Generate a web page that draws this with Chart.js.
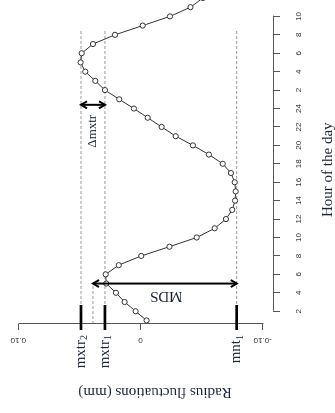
<!DOCTYPE html>
<html><head><meta charset="utf-8">
<script src="https://cdn.jsdelivr.net/npm/chart.js@4"></script>
<style>
html,body{margin:0;padding:0;background:#fff;overflow:hidden;width:335px;height:413px;}
#wrap{position:absolute;left:0;top:0;width:430px;height:335px;transform-origin:0 0;transform:translate(0px,413px) rotate(-90deg);}
canvas{display:block;}
</style></head><body>
<div id="wrap"><canvas id="c" width="430" height="335"></canvas></div>
<script>
// ---- data ----
const hours = [1,2,3,4,5,6,7,8,9,10,11,12,13,14,15,16,17,18,19,20,21,22,23,24,25,26,27,28,29,30,31,32,33,34,35,36];
const radius = [-0.0050,0.0040,0.0130,0.0201,0.0280,0.0285,0.0178,-0.0006,-0.0237,-0.0460,-0.0607,-0.0699,-0.0751,-0.0774,-0.0779,-0.0771,-0.0740,-0.0673,-0.0560,-0.0429,-0.0288,-0.0173,-0.0059,0.0054,0.0174,0.0291,0.0370,0.0452,0.0490,0.0481,0.0389,0.0209,-0.0018,-0.0241,-0.0409,-0.0511];
const hourTicks = [2,4,6,8,10,12,14,16,18,20,22,24,26,28,30,32,34];
const hourTickLabels = ['2','4','6','8','10','12','14','16','18','20','22','24','2','4','6','8','10'];
const radiusTicks = [0.10, 0, -0.10];
const radiusTickLabels = ['0.10','0','-0.10'];
const levelNames = ['mxtr','mxtr','mnt'];
const levelSubs = ['2','1','1'];
const levelValues = [0.0487, 0.0291, -0.0787];
const mdsMax = 0.0389;
const mdsHour = 5;
const dmxtrHour = 24.4;
const levelEndHour = 32.6;
const hourTitle = 'Hour of the day';
const radiusTitle = 'Radius fluctuations (mm)';
const mdsLabel = 'MDS';
const dmxtrLabel = '\u0394mxtr';

const X_MIN = 0.61, X_MAX = 37.08;
const Y_MIN = -0.10843, Y_MAX = 0.10679;

const SERIF = "'Liberation Serif', 'Times New Roman', serif";
const SANS = "'Liberation Sans', Arial, sans-serif";
const TXT = '#1c2436';
const AX = '#555';

function seg(x0, x1, v){ return [{x:x0,y:v},{x:x1,y:v}]; }
const dashStyle = {borderColor:'#9a9a9a', borderWidth:1, borderDash:[3,2], pointRadius:0, fill:false, tension:0};

const datasets = [{
  data: hours.map((h,i)=>({x:h, y:radius[i]})),
  borderColor:'#333', borderWidth:1, tension:0, fill:false,
  pointRadius:2.6, pointBackgroundColor:'#fff', pointBorderColor:'#333', pointBorderWidth:1
}];
levelValues.forEach(v => datasets.push(Object.assign({data: seg(X_MIN, levelEndHour, v)}, dashStyle)));
datasets.push(Object.assign({data: seg(X_MIN, mdsHour, mdsMax)}, dashStyle));

function arrow(ctx, x1, y1, x2, y2){
  const L = 6, W = 3.5;
  ctx.beginPath(); ctx.moveTo(x1,y1); ctx.lineTo(x2,y2); ctx.stroke();
  const heads = [[x1,y1,x2,y2],[x2,y2,x1,y1]];
  heads.forEach(([tx,ty,fx,fy])=>{
    const a = Math.atan2(ty-fy, tx-fx);
    ctx.beginPath();
    ctx.moveTo(tx - L*Math.cos(a) + W*Math.sin(a), ty - L*Math.sin(a) - W*Math.cos(a));
    ctx.lineTo(tx, ty);
    ctx.lineTo(tx - L*Math.cos(a) - W*Math.sin(a), ty - L*Math.sin(a) + W*Math.cos(a));
    ctx.stroke();
  });
}

const annot = {
  id:'annot',
  afterDatasetsDraw(chart){
    const ctx = chart.ctx, ca = chart.chartArea, xs = chart.scales.x, ys = chart.scales.y;
    ctx.save();
    // axis lines (span first to last tick)
    ctx.strokeStyle = AX; ctx.lineWidth = 1; ctx.setLineDash([]);
    ctx.beginPath();
    ctx.moveTo(Math.round(xs.getPixelForValue(hourTicks[0]))+0.5, Math.round(ca.bottom)+0.5);
    ctx.lineTo(Math.round(xs.getPixelForValue(hourTicks[hourTicks.length-1]))+0.5, Math.round(ca.bottom)+0.5);
    ctx.moveTo(Math.round(ca.left)+0.5, Math.round(ys.getPixelForValue(radiusTicks[0]))+0.5);
    ctx.lineTo(Math.round(ca.left)+0.5, Math.round(ys.getPixelForValue(radiusTicks[radiusTicks.length-1]))+0.5);
    ctx.stroke();

    // radius tick labels (rotated)
    ctx.fillStyle = '#333'; ctx.font = '8px ' + SANS;
    ctx.textAlign = 'center'; ctx.textBaseline = 'middle';
    radiusTicks.forEach((v,i)=>{
      ctx.save();
      ctx.translate(ca.left - 16, ys.getPixelForValue(v));
      ctx.rotate(-Math.PI/2);
      ctx.fillText(radiusTickLabels[i], 0, 0);
      ctx.restore();
    });

    // thick level marks + labels
    ctx.strokeStyle = '#000'; ctx.lineWidth = 2.7;
    levelValues.forEach((v,i)=>{
      const yy = ys.getPixelForValue(v);
      ctx.beginPath(); ctx.moveTo(ca.left-6, yy); ctx.lineTo(ca.left+19, yy); ctx.stroke();
      ctx.fillStyle = TXT;
      ctx.font = '10px ' + SERIF;
      const sw = ctx.measureText(levelSubs[i]).width;
      ctx.textAlign = 'left'; ctx.textBaseline = 'alphabetic';
      ctx.fillText(levelSubs[i], ca.left - 11 - sw, yy + 6.3);
      ctx.font = '15px ' + SERIF;
      ctx.textAlign = 'right';
      ctx.fillText(levelNames[i], ca.left - 11 - sw, yy + 3.8);
    });

    // arrows
    ctx.strokeStyle = '#000'; ctx.lineWidth = 2;
    const mx = xs.getPixelForValue(mdsHour);
    const mTop = ys.getPixelForValue(mdsMax), mBot = ys.getPixelForValue(levelValues[2]);
    arrow(ctx, mx, mTop, mx, mBot);
    const dx = xs.getPixelForValue(dmxtrHour);
    const dTop = ys.getPixelForValue(levelValues[0]), dBot = ys.getPixelForValue(levelValues[1]);
    arrow(ctx, dx, dTop, dx, dBot);

    // MDS label (rotated)
    ctx.fillStyle = TXT; ctx.font = '15px ' + SERIF;
    ctx.textAlign = 'center'; ctx.textBaseline = 'middle';
    ctx.save();
    ctx.translate(mx - 12.7, (mTop + mBot)/2 + 1.5);
    ctx.rotate(-Math.PI/2);
    ctx.fillText(mdsLabel, 0, 0);
    ctx.restore();

    // delta mxtr label
    ctx.font = '13px ' + SERIF;
    ctx.textAlign = 'right'; ctx.textBaseline = 'middle';
    ctx.fillText(dmxtrLabel, dx - 10, (dTop + dBot)/2);

    // axis titles
    ctx.font = '15px ' + SERIF;
    ctx.textAlign = 'center'; ctx.textBaseline = 'alphabetic';
    ctx.fillText(hourTitle, ca.left + 154.3, ca.bottom + 59);
    ctx.save();
    ctx.translate(24.7, (ys.getPixelForValue(radiusTicks[0]) + ys.getPixelForValue(radiusTicks[2]))/2 + 14.5);
    ctx.rotate(-Math.PI/2);
    ctx.fillText(radiusTitle, 0, 0);
    ctx.restore();
    ctx.restore();
  }
};

new Chart(document.getElementById('c'), {
  type:'line',
  data:{datasets},
  options:{
    responsive:false, animation:false, devicePixelRatio:1,
    layout:{padding:{top:10, right:0, bottom:0, left:0}},
    plugins:{legend:{display:false}, tooltip:{enabled:false}, title:{display:false}},
    scales:{
      x:{
        type:'linear', position:'bottom', min:X_MIN, max:X_MAX,
        afterFit(s){ s.height = 62; },
        afterBuildTicks(s){ s.ticks = hourTicks.map(v=>({value:v})); },
        ticks:{autoSkip:false, maxRotation:0, minRotation:0, padding:14, color:'#333',
          font:{family:SANS, size:8},
          callback:(v)=>{ const i = hourTicks.indexOf(v); return i>=0 ? hourTickLabels[i] : ''; }},
        grid:{drawOnChartArea:false, drawTicks:true, tickLength:7, tickColor:AX, tickWidth:1},
        border:{display:false}
      },
      y:{
        type:'linear', position:'left', min:Y_MIN, max:Y_MAX,
        afterFit(s){ s.width = 89; },
        afterBuildTicks(s){ s.ticks = radiusTicks.map(v=>({value:v})); },
        ticks:{display:false},
        grid:{drawOnChartArea:false, drawTicks:true, tickLength:6, tickColor:AX, tickWidth:1},
        border:{display:false}
      }
    }
  },
  plugins:[annot]
});
</script>
</body></html>
